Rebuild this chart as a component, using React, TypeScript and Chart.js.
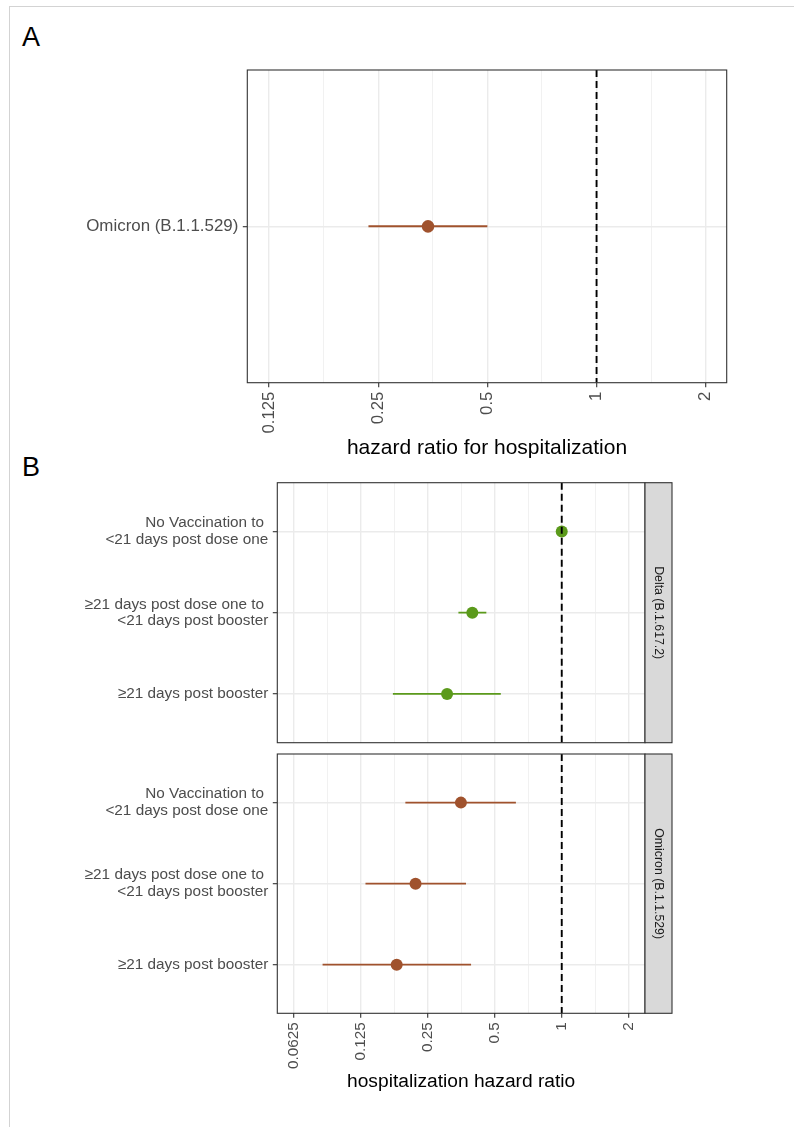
import React, { useEffect, useRef } from "react";
import { Chart, registerables } from "chart.js";
Chart.register(...registerables);

const FONT = "'Liberation Sans', Arial, Helvetica, sans-serif";

// ---------- Panel A data ----------
const panelAVariants = ["Omicron (B.1.1.529)"];
const panelAHR = [0.343];
const panelALower = [0.235];
const panelAUpper = [0.5];
const panelATicks = [0.125, 0.25, 0.5, 1, 2];
const panelAXTitle = "hazard ratio for hospitalization";

// ---------- Panel B data ----------
const doseGroups = [
  ["No Vaccination to ", "<21 days post dose one"],
  ["≥21 days post dose one to ", "<21 days post booster"],
  ["≥21 days post booster"],
];
const deltaHR = [1.0, 0.396, 0.305];
const deltaLower = [1.0, 0.343, 0.174];
const deltaUpper = [1.0, 0.458, 0.532];
const omicronHR = [0.352, 0.22, 0.181];
const omicronLower = [0.198, 0.131, 0.084];
const omicronUpper = [0.622, 0.371, 0.391];
const panelBTicks = [0.0625, 0.125, 0.25, 0.5, 1, 2];
const panelBXTitle = "hospitalization hazard ratio";
const stripLabels = ["Delta (B.1.617.2)", "Omicron (B.1.1.529)"];
const referenceHR = 1;

// axis limits (log2 units)
const panelALimits = [-3.199, 1.192];
const panelBLimits = [-4.25, 1.244];

const OMICRON_COLOR = "#A0522D";
const DELTA_COLOR = "#5B9A1B";

type Spec = {
  labels: (string | string[])[];
  hr: number[];
  lo: number[];
  hi: number[];
  color: string;
  ticks: number[];
  limits: number[];
  showX: boolean;
  xTitle?: string;
  xTitleSize?: number;
  tickSize: number;
  yTickSize: number;
  pointRadius: number;
  lineWidth: number;
  yAxisWidth: number;
  xAxisHeight: number;
  padding: { top: number; right: number; bottom: number; left: number };
  strip?: string;
};

function zeroPad(s: any) {
  s.paddingTop = 0;
  s.paddingBottom = 0;
  s.paddingLeft = 0;
  s.paddingRight = 0;
}

function buildConfig(spec: Spec): any {
  const n = spec.labels.length;
  const majors = spec.ticks;
  const xMin = Math.pow(2, spec.limits[0]);
  const xMax = Math.pow(2, spec.limits[1]);
  const minors: number[] = [];
  const cands: number[] = [majors[0] / Math.SQRT2];
  for (let i = 0; i < majors.length - 1; i++) cands.push(Math.sqrt(majors[i] * majors[i + 1]));
  cands.push(majors[majors.length - 1] * Math.SQRT2);
  cands.forEach((c) => {
    if (c > xMin && c < xMax) minors.push(c);
  });
  const allTicks = [...majors, ...minors].sort((a, b) => a - b);
  const isMajor = (v: number) => majors.some((m) => Math.abs(m - v) < 1e-9);

  const ciSets = spec.hr.map((_, i) => ({
    data: [
      { x: spec.lo[i], y: i + 1 },
      { x: spec.hi[i], y: i + 1 },
    ],
    showLine: true,
    borderColor: spec.color,
    borderWidth: spec.lineWidth,
    pointRadius: 0,
    order: 2,
  }));
  const pts = {
    data: spec.hr.map((v, i) => ({ x: v, y: i + 1 })),
    showLine: false,
    pointRadius: spec.pointRadius,
    pointBackgroundColor: spec.color,
    pointBorderWidth: 0,
    order: 1,
  };
  const vline = {
    data: [
      { x: referenceHR, y: 0.4 },
      { x: referenceHR, y: n + 0.6 },
    ],
    showLine: true,
    borderColor: "#000000",
    borderWidth: 1.9,
    borderDash: [7, 4],
    pointRadius: 0,
    order: 0,
  };

  const framePlugin = {
    id: "frame",
    afterDatasetsDraw(chart: any) {
      const { ctx, chartArea: a } = chart;
      ctx.save();
      ctx.strokeStyle = "#333333";
      ctx.lineWidth = 1.1;
      ctx.strokeRect(a.left, a.top, a.right - a.left, a.bottom - a.top);
      if (spec.strip) {
        const w = 27;
        ctx.fillStyle = "#D9D9D9";
        ctx.fillRect(a.right, a.top, w, a.bottom - a.top);
        ctx.strokeRect(a.right, a.top, w, a.bottom - a.top);
        ctx.translate(a.right + w / 2, (a.top + a.bottom) / 2);
        ctx.rotate(Math.PI / 2);
        ctx.fillStyle = "#1A1A1A";
        ctx.font = `12.3px ${FONT}`;
        ctx.textAlign = "center";
        ctx.textBaseline = "middle";
        ctx.fillText(spec.strip, 0, 0);
      }
      ctx.restore();
    },
  };

  return {
    type: "scatter",
    data: { datasets: [vline, pts, ...ciSets] },
    plugins: [framePlugin],
    options: {
      responsive: false,
      animation: false,
      events: [],
      layout: { padding: spec.padding },
      plugins: { legend: { display: false }, tooltip: { enabled: false } },
      scales: {
        x: {
          type: "logarithmic",
          min: xMin,
          max: xMax,
          afterBuildTicks: (s: any) => {
            s.ticks = allTicks.map((v) => ({ value: v }));
          },
          afterFit: (s: any) => {
            s.height = spec.xAxisHeight;
            zeroPad(s);
          },
          ticks: {
            display: spec.showX,
            autoSkip: false,
            minRotation: 90,
            maxRotation: 90,
            padding: 4.5,
            color: "#4D4D4D",
            font: { family: FONT, size: spec.tickSize },
            callback: (v: number) => (isMajor(v) ? String(v) : ""),
          },
          title: {
            display: !!spec.xTitle,
            text: spec.xTitle || "",
            color: "#000000",
            font: { family: FONT, size: spec.xTitleSize || 12 },
            padding: { top: 0, bottom: 0 },
          },
          grid: {
            color: (c: any) => (c.tick && isMajor(c.tick.value) ? "#EBEBEB" : "#F1F1F1"),
            lineWidth: (c: any) => (c.tick && isMajor(c.tick.value) ? 1.4 : 1),
            tickColor: (c: any) => (c.tick && isMajor(c.tick.value) ? "#333333" : "rgba(0,0,0,0)"),
            tickWidth: 1.1,
            tickLength: 4.5,
            drawTicks: spec.showX,
          },
          border: { display: false },
        },
        y: {
          type: "linear",
          min: 0.4,
          max: n + 0.6,
          reverse: true,
          afterBuildTicks: (s: any) => {
            s.ticks = spec.labels.map((_, i) => ({ value: i + 1 }));
          },
          afterFit: (s: any) => {
            s.width = spec.yAxisWidth;
            zeroPad(s);
          },
          ticks: {
            autoSkip: false,
            padding: 4.5,
            color: "#4D4D4D",
            font: { family: FONT, size: spec.yTickSize, lineHeight: 1.1 },
            callback: (_v: number, i: number) => spec.labels[i],
          },
          grid: {
            color: "#EBEBEB",
            lineWidth: 1.4,
            tickColor: "#333333",
            tickWidth: 1.1,
            tickLength: 4.5,
          },
          border: { display: false },
        },
      },
    },
  };
}

function Panel({ spec, left, top, width, height }: { spec: Spec; left: number; top: number; width: number; height: number }) {
  const ref = useRef<HTMLCanvasElement>(null);
  useEffect(() => {
    const chart = new Chart(ref.current as HTMLCanvasElement, buildConfig(spec));
    return () => chart.destroy();
  }, []);
  return (
    <canvas
      ref={ref}
      width={width}
      height={height}
      style={{ position: "absolute", left, top, width, height }}
    />
  );
}

const specA: Spec = {
  labels: panelAVariants,
  hr: panelAHR,
  lo: panelALower,
  hi: panelAUpper,
  color: OMICRON_COLOR,
  ticks: panelATicks,
  limits: panelALimits,
  showX: true,
  xTitle: panelAXTitle,
  xTitleSize: 21,
  tickSize: 16.7,
  yTickSize: 16.9,
  pointRadius: 6.3,
  lineWidth: 2,
  yAxisWidth: 247.3,
  xAxisHeight: 78.3,
  padding: { top: 10, right: 13.3, bottom: 0, left: 0 },
};

const specDelta: Spec = {
  labels: doseGroups,
  hr: deltaHR,
  lo: deltaLower,
  hi: deltaUpper,
  color: DELTA_COLOR,
  ticks: panelBTicks,
  limits: panelBLimits,
  showX: false,
  tickSize: 15.3,
  yTickSize: 15.3,
  pointRadius: 6,
  lineWidth: 1.8,
  yAxisWidth: 277.3,
  xAxisHeight: 0,
  padding: { top: 12.7, right: 55, bottom: 7.3, left: 0 },
  strip: stripLabels[0],
};

const specOmicron: Spec = {
  labels: doseGroups,
  hr: omicronHR,
  lo: omicronLower,
  hi: omicronUpper,
  color: OMICRON_COLOR,
  ticks: panelBTicks,
  limits: panelBLimits,
  showX: true,
  xTitle: panelBXTitle,
  xTitleSize: 19.2,
  tickSize: 15.3,
  yTickSize: 15.3,
  pointRadius: 6,
  lineWidth: 1.8,
  yAxisWidth: 277.3,
  xAxisHeight: 79.7,
  padding: { top: 9, right: 55, bottom: 0, left: 0 },
  strip: stripLabels[1],
};

export default function App() {
  return (
    <div
      style={{
        position: "absolute",
        left: 0,
        top: 0,
        width: 794,
        height: 1127,
        overflow: "hidden",
        background: "#ffffff",
        fontFamily: FONT,
      }}
    >
      <div
        style={{
          position: "absolute",
          left: 9,
          top: 6,
          width: 900,
          height: 1300,
          borderLeft: "1.5px solid #D3D3D3",
          borderTop: "1.5px solid #D3D3D3",
        }}
      />
      <div style={{ position: "absolute", left: 22, top: 24, fontSize: 27, lineHeight: "27px", color: "#000" }}>A</div>
      <div style={{ position: "absolute", left: 22, top: 454, fontSize: 27, lineHeight: "27px", color: "#000" }}>B</div>
      <Panel spec={specA} left={0} top={60} width={740} height={401} />
      <Panel spec={specDelta} left={0} top={470} width={700} height={280} />
      <Panel spec={specOmicron} left={0} top={745} width={700} height={348} />
    </div>
  );
}
